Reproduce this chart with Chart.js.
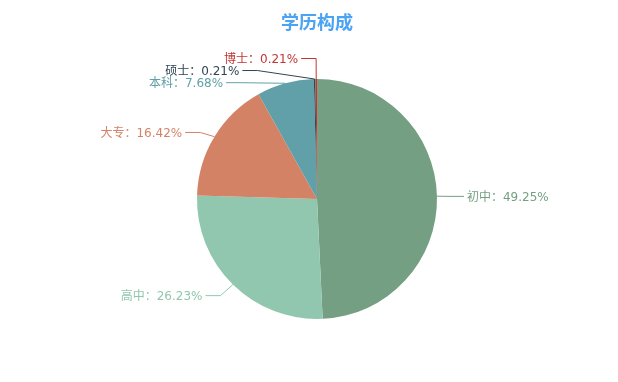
<!DOCTYPE html>
<html lang="zh-CN">
<head>
    <meta charset="UTF-8">
    <title>学历构成</title>
    <script src="https://cdn.jsdelivr.net/npm/chart.js"></script>
    <style>
        body {
            margin: 0;
            padding: 0;
            background: #ffffff;
        }
        #pieChart {
            display: block;
        }
    </style>
</head>
<body>
    <canvas id="pieChart" width="618" height="382"></canvas>
    <script>
    // 数据
    const chartTitle = '学历构成';
    const categories = ['初中', '高中', '大专', '本科', '硕士', '博士'];
    const percents = [49.25, 26.23, 16.42, 7.68, 0.21, 0.21];
    const sliceColors = ['#749f83', '#91c7ae', '#d48265', '#61a0a8', '#2f4554', '#c23531'];

    // 标签引导线的微调 (dx, dy)，模拟 echarts 的防重叠
    const labelNudge = [[0, 0.5], [-4, 2.5], [-4, 2], [-41, 11], [-57, 3.5], [0, -8.5]];
    const len1 = 12, len2 = 15, textGap = 3;
    const labelFont = "12px 'DejaVu Sans', 'Noto Sans CJK SC', sans-serif";

    const pieLabels = {
        id: 'pieLabels',
        afterDatasetsDraw(chart) {
            const ctx = chart.ctx;
            const meta = chart.getDatasetMeta(0);
            ctx.save();
            ctx.font = labelFont;
            ctx.textBaseline = 'middle';
            ctx.lineWidth = 1;
            meta.data.forEach((arc, i) => {
                const p = arc.getProps(['x', 'y', 'startAngle', 'endAngle', 'outerRadius'], true);
                const mid = (p.startAngle + p.endAngle) / 2;
                const dx = Math.cos(mid), dy = Math.sin(mid);
                const sx = p.x + p.outerRadius * dx, sy = p.y + p.outerRadius * dy;
                const bx = p.x + (p.outerRadius + len1) * dx + labelNudge[i][0];
                const by = p.y + (p.outerRadius + len1) * dy + labelNudge[i][1];
                const side = bx < p.x - 0.5 ? -1 : 1;
                const ex = bx + side * len2;
                ctx.strokeStyle = sliceColors[i];
                ctx.beginPath();
                ctx.moveTo(sx, sy);
                ctx.lineTo(bx, by);
                ctx.lineTo(ex, by);
                ctx.stroke();
                ctx.fillStyle = sliceColors[i];
                ctx.textAlign = side < 0 ? 'right' : 'left';
                ctx.fillText(categories[i] + '：' + percents[i].toFixed(2) + '%', ex + side * textGap, by + 1);
            });
            // 标题
            ctx.font = "bold 18px 'Noto Sans CJK SC', sans-serif";
            ctx.fillStyle = '#4ba3f3';
            ctx.textAlign = 'center';
            ctx.textBaseline = 'middle';
            ctx.fillText(chartTitle, 317, 22);
            ctx.restore();
        }
    };

    new Chart(document.getElementById('pieChart'), {
        type: 'pie',
        data: {
            labels: categories,
            datasets: [{
                data: percents,
                backgroundColor: sliceColors,
                borderWidth: 0,
                hoverOffset: 0
            }]
        },
        options: {
            responsive: false,
            animation: false,
            devicePixelRatio: 1,
            layout: { padding: { top: 79, bottom: 63, left: 100, right: 84 } },
            plugins: {
                legend: { display: false },
                tooltip: { enabled: false },
                title: { display: false }
            }
        },
        plugins: [pieLabels]
    });
    </script>
</body>
</html>
